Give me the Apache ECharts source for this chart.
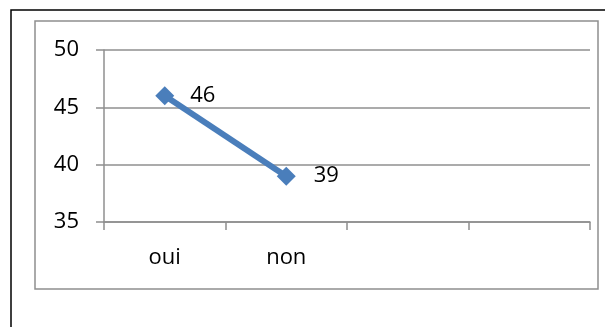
<!DOCTYPE html>
<html>
<head>
<meta charset="utf-8">
<script src="https://cdn.jsdelivr.net/npm/echarts@6/dist/echarts.min.js"></script>
<style>
  html, body { margin: 0; padding: 0; background: #fff; }
  #chart { width: 605px; height: 327px; }
</style>
</head>
<body>
<div id="chart"></div>
<script>
// Categories on the x axis (two trailing empty slots keep the spacing)
const categories = ['oui', 'non', '', ''];
// Series values
const values = [46, 39];
// Y axis range
const yMin = 35;
const yMax = 50;
const yStep = 5;

const chart = echarts.init(document.getElementById('chart'));
const font = 'Open Sans';
const gray = '#8f8f8f';
const fs = 22;

chart.setOption({
  animation: false,
  graphic: [
    { type: 'rect', shape: { x: 11, y: 10, width: 610, height: 330 },
      style: { fill: 'none', stroke: '#000', lineWidth: 1.5 } },
    { type: 'rect', shape: { x: 35, y: 21, width: 563, height: 268 },
      style: { fill: 'none', stroke: gray, lineWidth: 1.5 } }
  ],
  grid: { left: 104, right: 15, top: 50, bottom: 105 },
  xAxis: {
    type: 'category',
    data: categories,
    boundaryGap: true,
    axisLine: { lineStyle: { color: gray, width: 1.5 } },
    axisTick: { show: true, length: 8, lineStyle: { color: gray, width: 1.5 } },
    axisLabel: { color: '#000', fontSize: fs, fontFamily: font, margin: 25 }
  },
  yAxis: {
    type: 'value',
    min: yMin,
    max: yMax,
    interval: yStep,
    axisLine: { show: true, lineStyle: { color: gray, width: 1.5 } },
    axisTick: { show: true, length: 8, lineStyle: { color: gray, width: 1.5 } },
    splitLine: { show: true, lineStyle: { color: gray, width: 1.5 } },
    axisLabel: { color: '#000', fontSize: fs, fontFamily: font, margin: 25 }
  },
  series: [{
    type: 'line',
    data: values.map((v, i) => ({
      value: v,
      label: { distance: i === 0 ? 16 : 18 }
    })),
    symbol: 'diamond',
    symbolSize: 19,
    lineStyle: { color: '#4a7ebb', width: 6 },
    itemStyle: { color: '#4a7ebb' },
    label: {
      show: true,
      position: 'right',
      color: '#000',
      fontSize: fs,
      fontFamily: font
    }
  }]
});
</script>
</body>
</html>
